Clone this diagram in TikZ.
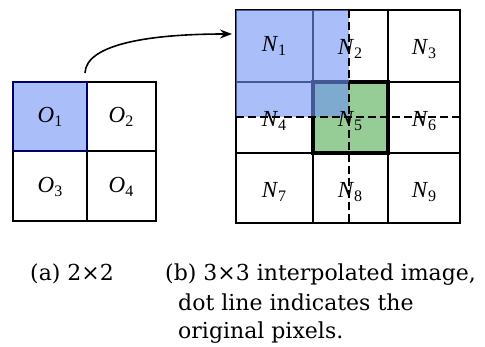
\documentclass[tikz,border=0pt]{standalone}
\usepackage{fontspec}
\setmainfont{Liberation Serif}
\newfontfamily\capfont{DejaVu Serif}
\usetikzlibrary{arrows.meta}
\definecolor{pixblue}{RGB}{113,147,247}
\definecolor{pixgreen}{RGB}{150,205,150}
\tikzset{
  cell/.style={font=\fontsize{23}{26}\selectfont, inner sep=0pt},
  captext/.style={font=\capfont\fontsize{22}{26}\selectfont, anchor=base west, inner sep=0pt},
  gridline/.style={line width=1.6pt, black},
  orig/.style={line width=1.6pt, dash pattern=on 8pt off 4pt, black},
}
\newcommand{\lab}[2]{\textit{#1}\raisebox{-0.35ex}{\fontsize{16}{16}\selectfont #2}}
\begin{document}
\begin{tikzpicture}[x=1pt,y=-1pt]
\useasboundingbox (0,0) rectangle (485,347);
% left grid
\fill[pixblue!60] (13,82) rectangle (87,151);
\draw[gridline] (13,82) rectangle (156,221);
\draw[gridline] (87,82) -- (87,221);
\draw[gridline] (13,151) -- (156,151);
\draw[line width=1.6pt, blue!40!black] (13,82) rectangle (87,151);
\node[cell] (o1) at (50,117) {\lab{O}{1}};
\node[cell] (o2) at (121,117) {\lab{O}{2}};
\node[cell] (o3) at (50,187) {\lab{O}{3}};
\node[cell] (o4) at (121,187) {\lab{O}{4}};
% right grid
\fill[pixgreen] (313,82) rectangle (388,153);
\draw[gridline] (236,10) rectangle (460,223);
\draw[gridline] (313,10) -- (313,223);
\draw[gridline] (388,10) -- (388,223);
\draw[gridline] (236,82) -- (460,82);
\draw[gridline] (236,153) -- (460,153);
\draw[line width=3.6pt] (313,82) rectangle (388,153);
\fill[pixblue, opacity=0.6] (236,10) rectangle (349,117);
\draw[orig] (236,117) -- (460,117);
\draw[orig] (349,10) -- (349,223);
\node[cell] (n1) at (274,46) {\lab{N}{1}};
\node[cell] (n2) at (350,49) {\lab{N}{2}};
\node[cell] (n3) at (424,49) {\lab{N}{3}};
\node[cell] (n4) at (274,121) {\lab{N}{4}};
\node[cell] (n5) at (350,121) {\lab{N}{5}};
\node[cell] (n6) at (424,121) {\lab{N}{6}};
\node[cell] (n7) at (274,192) {\lab{N}{7}};
\node[cell] (n8) at (350,192) {\lab{N}{8}};
\node[cell] (n9) at (424,192) {\lab{N}{9}};
% arrow
\coordinate (as) at (85,73);
\coordinate (ae) at (232,34);
\draw[line width=1.6pt, -{Stealth[length=12pt,width=9pt]}] (as) .. controls (86,44) and (150,34) .. (ae);
% captions
\node[captext] (ca) at (30,281) {(a) 2×2};
\node[captext] (cb) at (165,281) {(b) 3×3 interpolated image,};
\node[captext] (cb2) at (178,311) {dot line indicates the};
\node[captext] (cb3) at (178,339) {original pixels.};
\end{tikzpicture}
\end{document}
